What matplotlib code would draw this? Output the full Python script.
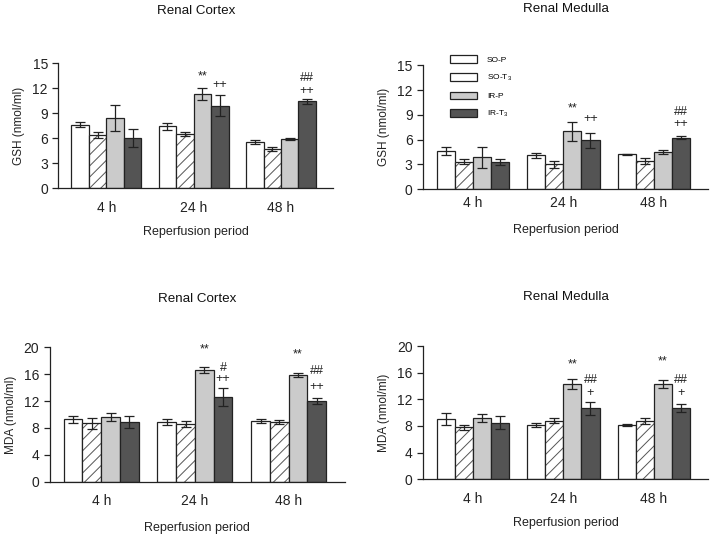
import numpy as np
import matplotlib
matplotlib.use("Agg")
import matplotlib.pyplot as plt

plt.rcParams['font.family'] = ['Liberation Sans', 'DejaVu Sans']
plt.rcParams['mathtext.default'] = 'regular'
plt.rcParams['hatch.linewidth'] = 0.7

# Datos
periods = ["4 h", "24 h", "48 h"]
groups = ["SO-P", "SO-T$_3$", "IR-P", "IR-T$_3$"]

gsh_cortex = [[7.6, 7.4, 5.5], [6.4, 6.5, 4.7], [8.4, 11.3, 5.9], [6.0, 9.9, 10.4]]
gsh_cortex_err = [[0.3, 0.45, 0.25], [0.35, 0.2, 0.25], [1.6, 0.7, 0.1], [1.1, 1.3, 0.3]]

gsh_medulla = [[4.6, 4.1, 4.2], [3.3, 3.0, 3.45], [3.85, 7.0, 4.5], [3.3, 5.9, 6.25]]
gsh_medulla_err = [[0.5, 0.3, 0.1], [0.3, 0.4, 0.35], [1.3, 1.15, 0.3], [0.4, 0.95, 0.15]]

mda_cortex = [[9.3, 8.85, 9.0], [8.7, 8.6, 8.9], [9.6, 16.6, 15.8], [8.9, 12.6, 12.0]]
mda_cortex_err = [[0.5, 0.45, 0.3], [0.8, 0.4, 0.3], [0.6, 0.5, 0.3], [0.9, 1.4, 0.5]]

mda_medulla = [[9.0, 8.15, 8.15], [7.8, 8.8, 8.8], [9.25, 14.25, 14.3], [8.5, 10.65, 10.65]]
mda_medulla_err = [[0.9, 0.35, 0.2], [0.4, 0.35, 0.45], [0.6, 0.75, 0.55], [1.0, 1.0, 0.6]]

# marcas de significación: (periodo, grupo, texto, altura)
gsh_cortex_marks = [(1, 2, "**", 13.4), (1, 3, "++", 12.4), (2, 3, "##", 13.2), (2, 3, "++", 11.7)]
gsh_medulla_marks = [(1, 2, "**", 9.8), (1, 3, "++", 8.5), (2, 3, "##", 9.4), (2, 3, "++", 7.9)]
mda_cortex_marks = [(1, 2, "**", 19.6), (1, 3, "#", 16.9), (1, 3, "++", 15.3),
                    (2, 2, "**", 18.9), (2, 3, "##", 16.5), (2, 3, "++", 14.1)]
mda_medulla_marks = [(1, 2, "**", 17.25), (1, 3, "##", 14.9), (1, 3, "+", 13.0),
                     (2, 2, "**", 17.65), (2, 3, "##", 14.9), (2, 3, "+", 12.9)]

colors = ["white", "white", "#cbcbcb", "#545454"]
width = 0.2


def draw_panel(ax, vals, errs, marks, ymax, ystep, ylabel, title, title_y, tick_pad, xlabel_y):
    x = np.arange(len(periods))
    for i in range(len(groups)):
        pos = x + (i - 1.5) * width
        if i == 1:
            ax.bar(pos, vals[i], width, color="white", edgecolor="#555555", hatch="///", linewidth=0)
            ax.bar(pos, vals[i], width, fill=False, edgecolor="#222222", linewidth=0.9, label=groups[i])
        else:
            ax.bar(pos, vals[i], width, color=colors[i], edgecolor="#222222", linewidth=0.9, label=groups[i])
        ax.errorbar(pos, vals[i], yerr=errs[i], fmt="none", ecolor="#222222", elinewidth=0.9,
                    capsize=3.5, capthick=0.9)
    for p, g, txt, h in marks:
        ax.text(x[p] + (g - 1.5) * width, h, txt, ha="center", va="center", fontsize=9, color="#222222")
    ax.set_xlim(-0.55, 2.6)
    ax.set_ylim(0, ymax)
    ax.set_yticks(np.arange(0, ymax + 0.1, ystep))
    ax.set_xticks(x)
    ax.set_xticklabels(periods)
    ax.tick_params(axis="x", length=0, pad=tick_pad, labelsize=10, colors="#222222")
    ax.tick_params(axis="y", length=4, width=0.9, labelsize=10, colors="#222222")
    for s in ["top", "right"]:
        ax.spines[s].set_visible(False)
    for s in ["left", "bottom"]:
        ax.spines[s].set_linewidth(0.9)
        ax.spines[s].set_color("#222222")
    ax.set_ylabel(ylabel, fontsize=8.5, color="#222222", labelpad=5)
    ax.text(0.5, xlabel_y, "Reperfusion period", transform=ax.transAxes, ha="center", va="center",
            fontsize=9, color="#222222")
    ax.text(0.5, title_y, title, transform=ax.transAxes, ha="center", va="center",
            fontsize=9.6, color="#111111")


fig = plt.figure(figsize=(7.2, 5.39), dpi=100)
ax1 = fig.add_axes([0.081, 0.651, 0.382, 0.232])
ax2 = fig.add_axes([0.5875, 0.649, 0.396, 0.230])
ax3 = fig.add_axes([0.069, 0.106, 0.41, 0.25])
ax4 = fig.add_axes([0.5875, 0.111, 0.396, 0.247])

draw_panel(ax1, gsh_cortex, gsh_cortex_err, gsh_cortex_marks, 15, 3, "GSH (nmol/ml)",
           "Renal Cortex", 1.42, 9, -0.35)
draw_panel(ax2, gsh_medulla, gsh_medulla_err, gsh_medulla_marks, 15, 3, "GSH (nmol/ml)",
           "Renal Medulla", 1.45, 5, -0.33)
draw_panel(ax3, mda_cortex, mda_cortex_err, mda_cortex_marks, 20, 4, "MDA (nmol/ml)",
           "Renal Cortex", 1.36, 9, -0.34)
draw_panel(ax4, mda_medulla, mda_medulla_err, mda_medulla_marks, 20, 4, "MDA (nmol/ml)",
           "Renal Medulla", 1.37, 9, -0.33)

handles, labels = ax2.get_legend_handles_labels()
ax2.legend(handles, labels, loc="upper left", bbox_to_anchor=(0.07, 1.14), frameon=False,
           fontsize=6, handlelength=3.2, handleheight=1.0, labelspacing=1.05, handletextpad=1.2)

fig.savefig("out.png", dpi=100)
